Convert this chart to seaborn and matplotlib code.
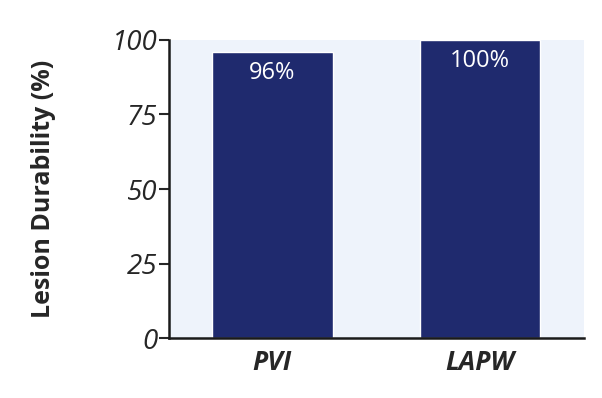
import matplotlib
matplotlib.use("Agg")
import matplotlib.pyplot as plt
import seaborn as sns
import pandas as pd

categories = ["PVI", "LAPW"]
values = [96, 100]
bar_labels = ["96%", "100%"]
yticks = [0, 25, 50, 75, 100]

sns.set_style("ticks")
plt.rcParams['font.family'] = ['Open Sans', 'DejaVu Sans']

df = pd.DataFrame({"cat": categories, "val": values})

fig, ax = plt.subplots(figsize=(6.02, 3.98), dpi=100)
fig.subplots_adjust(left=0.28, right=0.97, bottom=0.15, top=0.90)
ax.set_facecolor("#eef3fb")

sns.barplot(data=df, x="cat", y="val", color="#1f2a6e", saturation=1, width=0.58, ax=ax)

for p, lab in zip(ax.patches, bar_labels):
    ax.text(p.get_x() + p.get_width() / 2, p.get_height() - 3, lab,
            ha="center", va="top", color="white", fontsize=17)

ax.set_ylim(0, 100)
ax.set_xlim(-0.5, 1.5)
ax.set_yticks(yticks)
ax.set_yticklabels([str(t) for t in yticks], fontsize=20, style="italic")
ax.set_xticks(range(len(categories)))
ax.set_xticklabels(categories, fontsize=19, fontweight="bold", style="italic")
ax.tick_params(axis="x", length=0, pad=8)
ax.tick_params(axis="y", length=7, width=1.5, pad=1)
ax.set_xlabel("")
ax.set_ylabel("Lesion Durability (%)", fontsize=18, fontweight="bold", labelpad=40)
for s in ["top", "right"]:
    ax.spines[s].set_visible(False)
for s in ["left", "bottom"]:
    ax.spines[s].set_linewidth(1.8)
    ax.spines[s].set_color("#1a1a1a")

fig.savefig("out.png", dpi=100)
